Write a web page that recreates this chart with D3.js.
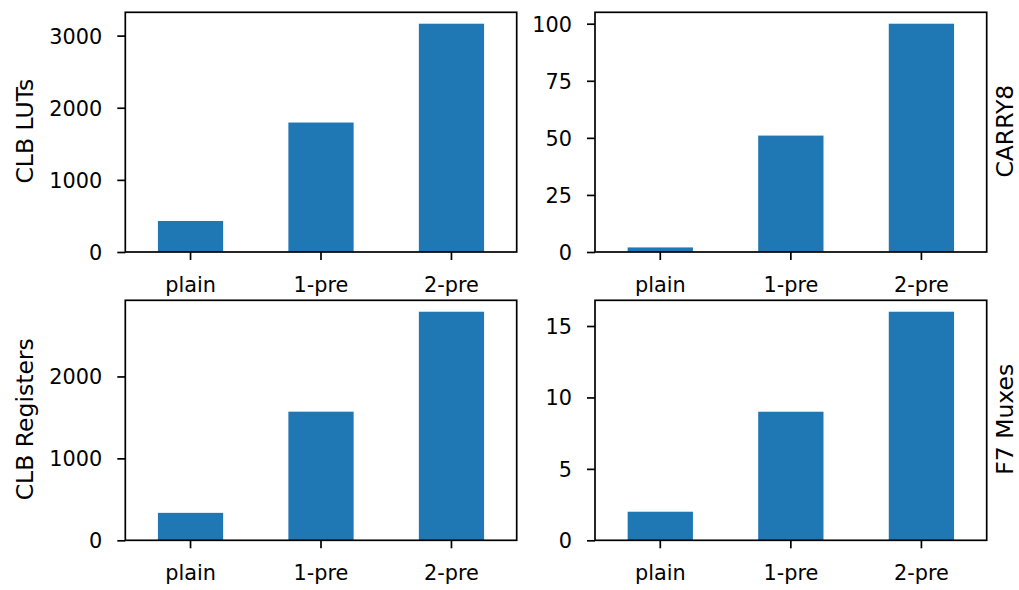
<!DOCTYPE html>
<html>
<head>
  <meta charset="utf-8" />
  <title>Resource usage</title>
  <script src="https://cdnjs.cloudflare.com/ajax/libs/d3/7.8.5/d3.min.js"></script>
  <style>
    body { margin: 0; background: #fff; }
    svg { display: block; font-family: "DejaVu Sans", sans-serif; }
  </style>
</head>
<body>
  <svg id="chart" width="1019" height="590"></svg>
<script>
  // data
  const categories = ['plain', '1-pre', '2-pre']
  const clbLuts = [430, 1795, 3165]
  const carry8 = [2, 51, 100]
  const clbRegs = [335, 1570, 2790]
  const f7Muxes = [2, 9, 16]

  const lutTicks = [0, 1000, 2000, 3000]
  const carryTicks = [0, 25, 50, 75, 100]
  const regTicks = [0, 1000, 2000]
  const muxTicks = [0, 5, 10, 15]

  const svg = d3.select('#chart')
  const tickFont = 20.8
  const labelFont = 23.5

  const panels = [
    { values: clbLuts, ticks: lutTicks, label: 'CLB LUTs', side: 'left', x0: 125.3, x1: 516.7, y0: 12.3, y1: 252 },
    { values: carry8, ticks: carryTicks, label: 'CARRY8', side: 'right', x0: 595, x1: 986.7, y0: 12.3, y1: 252 },
    { values: clbRegs, ticks: regTicks, label: 'CLB Registers', side: 'left', x0: 125.3, x1: 516.7, y0: 300.3, y1: 540.3 },
    { values: f7Muxes, ticks: muxTicks, label: 'F7 Muxes', side: 'right', x0: 595, x1: 986.7, y0: 300.3, y1: 540.3 }
  ]

  panels.forEach(function(p) {
    let xScale = d3.scaleBand().domain(categories).range([p.x0, p.x1])
      .paddingInner(0.5).paddingOuter(0.25)
    let yScale = d3.scaleLinear().domain([0, d3.max(p.values) * 1.05]).range([p.y1, p.y0])

    let g = svg.append('g')

    g.selectAll('rect.bar')
      .data(p.values)
      .enter()
      .append('rect')
      .attr('class', 'bar')
      .attr('x', function(d, i) { return xScale(categories[i]) })
      .attr('width', xScale.bandwidth())
      .attr('y', function(d) { return yScale(d) })
      .attr('height', function(d) { return yScale(0) - yScale(d) })
      .style('fill', '#1f77b4')

    let yAxis = d3.axisLeft(yScale).tickValues(p.ticks).tickFormat(d3.format('d'))
      .tickSize(8).tickSizeOuter(0).tickPadding(15)
    let ya = g.append('g').attr('transform', 'translate(' + p.x0 + ',0)').call(yAxis)

    let xAxis = d3.axisBottom(xScale).tickSize(8).tickSizeOuter(0).tickPadding(17)
    let xa = g.append('g').attr('transform', 'translate(0,' + p.y1 + ')').call(xAxis)

    ;[ya, xa].forEach(function(a) {
      a.select('.domain').remove()
      a.selectAll('line').attr('stroke', '#000').attr('stroke-width', 1.7)
      a.selectAll('text').attr('fill', '#000').style('font-size', tickFont + 'px').style('font-family', '"DejaVu Sans", sans-serif')
    })
    ya.selectAll('text').attr('dy', '0.36em')

    g.append('rect')
      .attr('x', p.x0).attr('y', p.y0)
      .attr('width', p.x1 - p.x0).attr('height', p.y1 - p.y0)
      .style('fill', 'none').style('stroke', '#000').style('stroke-width', 1.7)

    // right-hand labels sit a touch in so their box stays inside the page
    let lx = p.side === 'left' ? 33 : 1013
    g.append('text')
      .attr('transform', 'translate(' + lx + ',' + ((p.y0 + p.y1) / 2 - 1) + ') rotate(-90)')
      .attr('text-anchor', 'middle')
      .style('font-size', labelFont + 'px')
      .text(p.label)
  })
</script>
</body>
</html>
